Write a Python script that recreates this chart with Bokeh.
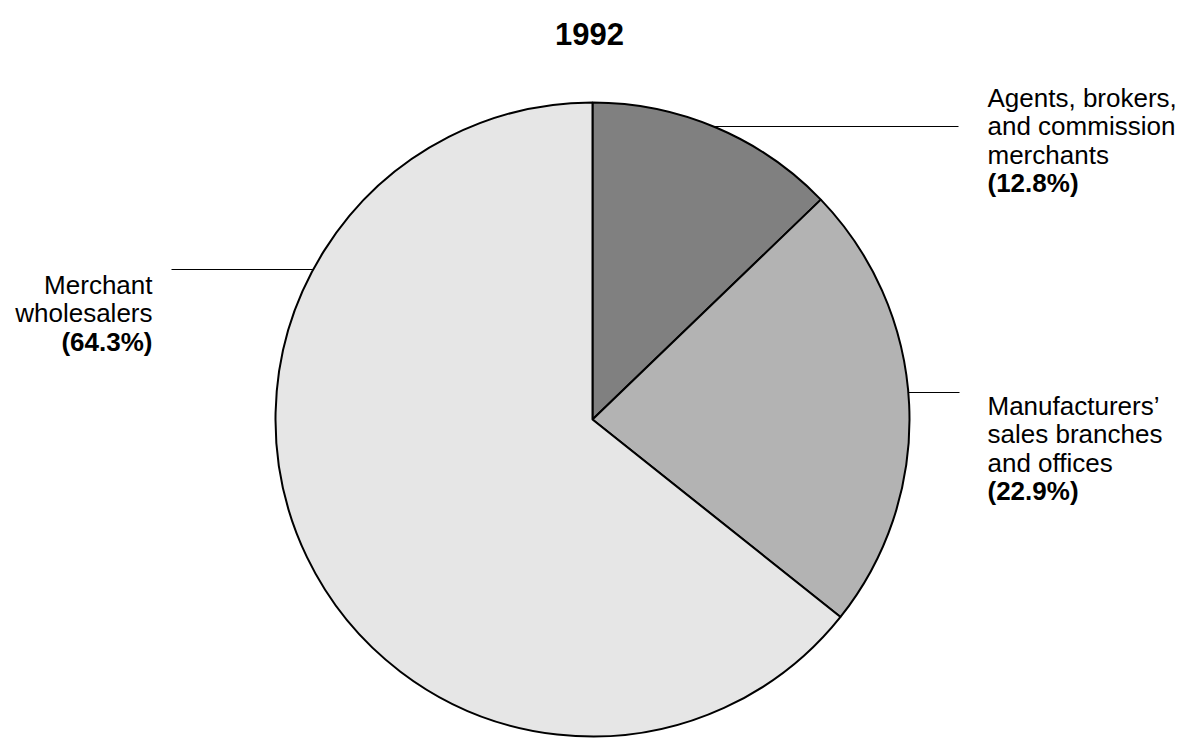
import math
from bokeh.plotting import figure
from bokeh.models import Range1d
from bokeh.core.properties import value
from bokeh.embed import file_html
from bokeh.resources import INLINE

# ---- data ----
title = "1992"
categories = ["Agents, brokers, and commission merchants",
              "Manufacturers\u2019 sales branches and offices",
              "Merchant wholesalers"]
label_lines = [["Agents, brokers,", "and commission", "merchants"],
               ["Manufacturers\u2019", "sales branches", "and offices"],
               ["Merchant", "wholesalers"]]
shares = [12.8, 22.9, 64.3]
colors = ["#808080", "#b3b3b3", "#e6e6e6"]

# ---- layout (screen pixels) ----
W, H = 1190, 739
OX, OY = 0, 0
CX, CY, R = 592, 419, 317   # pie centre / radius on screen
FONT = "Liberation Sans"
FS = "26px"
LINE_H = 28.5

def X(sx):
    return (sx - CX) / R

def Y(sy):
    return (CY - sy) / R

p = figure(width=W, height=H, output_backend="svg", toolbar_location=None,
           x_range=Range1d(X(OX), X(OX + W)), y_range=Range1d(Y(OY + H), Y(OY)),
           min_border=0, outline_line_color=None)
p.axis.visible = False
p.grid.visible = False
p.background_fill_color = "white"
p.border_fill_color = "white"

# wedges, clockwise from 12 o'clock
total = sum(shares)
cum = 0.0
starts, ends = [], []
for s in shares:
    starts.append(math.pi / 2 - 2 * math.pi * cum / total)
    cum += s
    ends.append(math.pi / 2 - 2 * math.pi * cum / total)
p.wedge(x=[0] * len(shares), y=[0] * len(shares), radius=1,
        start_angle=starts, end_angle=ends, direction="clock",
        fill_color=colors, line_color="black", line_width=2)

# label layout: (leader y, leader outer x, text x, align, first baseline, side)
layouts = [
    (126, 958, 987, "left", 97, 1),
    (392, 959, 987, "left", 405, 1),
    (269, 171, 152, "right", 284, -1),
]
for lines, s, (ly, lx, tx, align, base, side) in zip(label_lines, shares, layouts):
    dy = (CY - ly)
    dx = math.sqrt(max(R * R - dy * dy, 0))
    x0 = CX + side * dx
    p.segment(x0=[X(x0)], y0=[Y(ly)], x1=[X(lx)], y1=[Y(ly)],
              line_color="black", line_width=1)
    ys = [Y(base + i * LINE_H) for i in range(len(lines))]
    p.text(x=[X(tx)] * len(lines), y=ys, text=lines,
           text_font=value(FONT), text_font_size=FS, text_align=align,
           text_baseline="alphabetic", text_color="black")
    p.text(x=[X(tx)], y=[Y(base + len(lines) * LINE_H)], text=[f"({s:.1f}%)"],
           text_font=value(FONT), text_font_size=FS, text_font_style="bold",
           text_align=align, text_baseline="alphabetic", text_color="black")

# title
p.text(x=[X(589)], y=[Y(33)], text=[title], text_font=value(FONT),
       text_font_size="31px", text_font_style="bold", text_align="center",
       text_baseline="alphabetic", text_color="black")

open("out.html", "w").write(file_html(p, INLINE))
